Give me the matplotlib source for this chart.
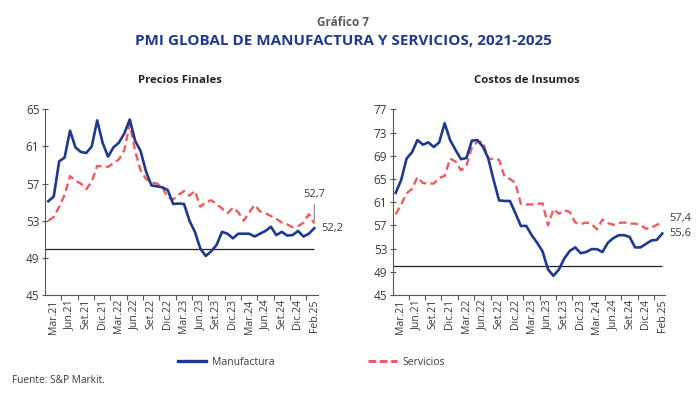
import numpy as np
import matplotlib
matplotlib.use("Agg")
import matplotlib.pyplot as plt
from matplotlib.lines import Line2D

plt.rcParams['font.family'] = ['Open Sans', 'DejaVu Sans']

# ---- data (monthly, Jan 2021 - Feb 2025) ----
tick_labels = ["Mar.21", "Jun.21", "Set.21", "Dic.21", "Mar.22", "Jun.22", "Set.22", "Dic.22",
               "Mar.23", "Jun.23", "Set.23", "Dic.23", "Mar.24", "Jun.24", "Set.24", "Dic.24", "Feb.25"]

pf_manufactura = [55.1, 55.6, 59.4, 59.8, 62.7, 60.9, 60.4, 60.3, 61.0, 63.8,
                  61.4, 59.9, 60.9, 61.4, 62.4, 63.9, 61.6, 60.5, 58.3, 56.8,
                  56.7, 56.6, 56.3, 54.8, 54.85, 54.8, 53.0, 51.8, 50.0, 49.2,
                  49.7, 50.4, 51.8, 51.6, 51.1, 51.6, 51.6, 51.6, 51.3, 51.6,
                  51.9, 52.35, 51.45, 51.8, 51.4, 51.45, 51.9, 51.3, 51.6, 52.2]
pf_servicios = [53.0, 53.4, 54.5, 55.8, 57.8, 57.3, 57.0, 56.4, 57.2, 58.9,
                58.85, 58.8, 59.2, 59.6, 60.6, 63.4, 60.5, 58.4, 57.5, 57.1,
                57.0, 56.6, 55.5, 55.3, 55.8, 56.2, 55.7, 56.2, 54.5, 55.0,
                55.2, 54.8, 54.3, 53.8, 54.4, 53.9, 53.0, 53.9, 54.7, 54.0,
                53.8, 53.5, 53.2, 52.8, 52.6, 52.3, 52.4, 52.8, 53.7, 52.7]
ci_manufactura = [62.6, 64.8, 68.5, 69.6, 71.7, 70.9, 71.3, 70.5, 71.3, 74.6,
                  71.7, 70.0, 68.4, 68.6, 71.6, 71.7, 70.6, 68.6, 64.8, 61.3,
                  61.2, 61.2, 59.1, 56.9, 56.9, 55.3, 54.0, 52.5, 49.4, 48.3,
                  49.4, 51.3, 52.6, 53.2, 52.2, 52.4, 52.9, 52.9, 52.4, 54.0,
                  54.8, 55.3, 55.3, 55.0, 53.2, 53.2, 53.8, 54.4, 54.5, 55.6]
ci_servicios = [58.9, 60.6, 62.5, 63.3, 65.3, 64.3, 64.2, 64.2, 65.2, 65.5,
                68.5, 68.0, 66.5, 67.2, 70.5, 71.4, 71.4, 68.5, 68.4, 68.3,
                65.4, 65.0, 64.3, 60.7, 60.6, 60.6, 60.7, 60.8, 57.0, 59.8,
                59.0, 59.6, 59.3, 57.5, 57.2, 57.5, 57.2, 56.3, 58.0, 57.4,
                57.1, 57.4, 57.5, 57.3, 57.3, 57.1, 56.4, 56.6, 57.1, 57.4]

pf_yticks = [45, 49, 53, 57, 61, 65]
ci_yticks = [45, 49, 53, 57, 61, 65, 69, 73, 77]
umbral = 50

# ---- styling ----
BLUE = "#1f3a8c"
RED = "#ef5b5f"
TXT = "#3a3a3a"

fig = plt.figure(figsize=(7.0, 3.95), dpi=100)

x = np.arange(len(pf_manufactura))
label_pos = np.linspace(0.9, x[-1], len(tick_labels))
minor_pos = (label_pos[:-1] + label_pos[1:]) / 2


def style_axes(ax, yticks, xlim):
    ax.set_xlim(*xlim)
    ax.set_ylim(yticks[0], yticks[-1])
    ax.set_yticks(yticks)
    ax.set_xticks(label_pos)
    ax.set_xticklabels(tick_labels, rotation=90, fontsize=7.6, color=TXT)
    ax.set_xticks(minor_pos, minor=True)
    ax.tick_params(axis='x', which='major', length=0, pad=3)
    ax.tick_params(axis='x', which='minor', length=3.5, direction='out', width=0.8, color="#555555")
    ax.tick_params(axis='y', length=4, direction='inout', width=0.8, color="#555555",
                   labelsize=8.5, labelcolor=TXT, pad=2)
    for s in ['top', 'right']:
        ax.spines[s].set_visible(False)
    for s in ['left', 'bottom']:
        ax.spines[s].set_color("#555555")
        ax.spines[s].set_linewidth(0.8)
    ax.patch.set_alpha(0)


# Left panel
ax1 = fig.add_axes([0.0643, 0.2532, 0.39, 0.4701])
xl1 = (-0.61, 49.68)
ax1.hlines(umbral, xl1[0], x[-1], color="#222222", lw=0.9)
ax1.plot(x, pf_servicios, color=RED, lw=1.7, ls=(0, (3.2, 1.8)))
ax1.plot(x, pf_manufactura, color=BLUE, lw=1.9)
style_axes(ax1, pf_yticks, xl1)
ax1.annotate("52,7", xy=(x[-1], pf_servicios[-1] + 0.35), xytext=(x[-1], 55.2),
             ha='center', va='bottom', fontsize=8, color=TXT,
             arrowprops=dict(arrowstyle='-', color="#888888", lw=0.8, shrinkA=1, shrinkB=0))
ax1.annotate("52,2", xy=(x[-1], pf_manufactura[-1]), xytext=(5, 0), textcoords='offset points',
             ha='left', va='center', fontsize=8, color=TXT)

# Right panel
ax2 = fig.add_axes([0.561, 0.2532, 0.389, 0.4701])
xl2 = (-0.55, 49.5)
ax2.hlines(umbral, xl2[0], x[-1], color="#222222", lw=0.9)
ax2.plot(x, ci_servicios, color=RED, lw=1.7, ls=(0, (3.2, 1.8)))
ax2.plot(x, ci_manufactura, color=BLUE, lw=1.9)
style_axes(ax2, ci_yticks, xl2)
ax2.annotate("57,4", xy=(x[-1], ci_servicios[-1]), xytext=(5, 3), textcoords='offset points',
             ha='left', va='center', fontsize=8, color=TXT)
ax2.annotate("55,6", xy=(x[-1], ci_manufactura[-1]), xytext=(5, 0), textcoords='offset points',
             ha='left', va='center', fontsize=8, color=TXT)

# Titles
fig.text(0.49, 0.942, "Gráfico 7", ha='center', va='center', fontsize=8.5,
         fontweight='bold', color="#5a5a5a")
fig.text(0.49, 0.895, "PMI GLOBAL DE MANUFACTURA Y SERVICIOS, 2021-2025", ha='center',
         va='center', fontsize=11, fontweight='bold', color=BLUE)
fig.text(0.257, 0.795, "Precios Finales", ha='center', va='center', fontsize=8.2,
         fontweight='bold', color="#222222")
fig.text(0.753, 0.795, "Costos de Insumos", ha='center', va='center', fontsize=8.2,
         fontweight='bold', color="#222222")

# Legend
handles = [Line2D([0], [0], color=BLUE, lw=2.4),
           Line2D([0], [0], color=RED, lw=2.2, ls=(0, (2.5, 1.2)))]
fig.legend(handles, ["Manufactura", "Servicios"], loc='center', bbox_to_anchor=(0.445, 0.083),
           ncol=2, frameon=False, fontsize=7.5, handlelength=2.7, handletextpad=0.6,
           columnspacing=9.0, labelcolor=TXT)

fig.text(0.017, 0.037, "Fuente: S&P Markit.", ha='left', va='center', fontsize=7.3, color=TXT)

fig.savefig("out.png", dpi=100)
